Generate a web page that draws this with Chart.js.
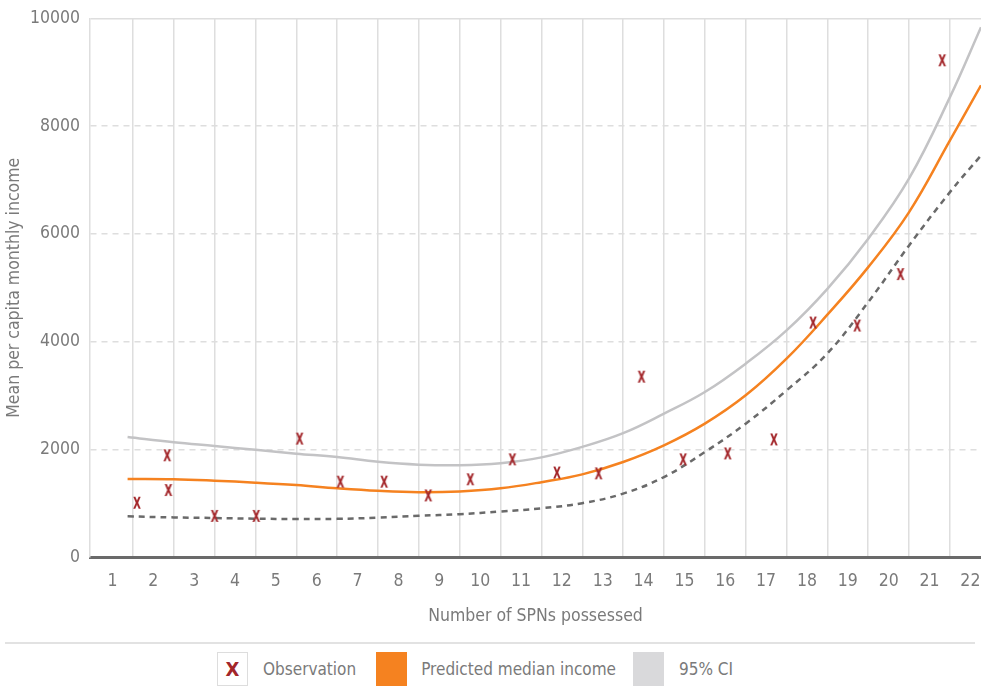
<!DOCTYPE html>
<html>
<head>
<meta charset="utf-8">
<script src="https://cdn.jsdelivr.net/npm/chart.js@4/dist/chart.umd.min.js"></script>
<style>
html,body{margin:0;padding:0;background:#fff;}
#wrap{position:relative;width:981px;height:686px;overflow:hidden;font-family:'DejaVu Sans Condensed','DejaVu Sans',sans-serif;}
#cv{position:absolute;left:0;top:0;}
#sep{position:absolute;left:5px;width:970px;top:642px;height:0;border-top:2px solid #e2e2e2;}
#legend{position:absolute;left:217px;top:652px;height:34px;display:flex;align-items:center;font-size:17px;color:#7a7a7a;}
.box{width:31px;height:34px;box-sizing:border-box;flex:none;}
.obs{border:1px solid #ddd;background:#fff;color:#a3262a;font-weight:bold;font-size:20px;display:flex;align-items:center;justify-content:center;}
.lbl{white-space:nowrap;}
</style>
</head>
<body>
<div id="wrap">
  <canvas id="cv" width="981" height="640"></canvas>
  <div id="sep"></div>
  <div id="legend">
    <div class="box obs">X</div><span class="lbl" style="margin-left:15px;margin-right:20px">Observation</span>
    <div class="box" style="background:#f58220"></div><span class="lbl" style="margin-left:14px;margin-right:17px">Predicted median income</span>
    <div class="box" style="background:#d9d9db"></div><span class="lbl" style="margin-left:15px">95% CI</span>
  </div>
</div>
<script>
// ---- data ----
const xTickLabels = [1,2,3,4,5,6,7,8,9,10,11,12,13,14,15,16,17,18,19,20,21,22];
const yTickValues = [0,2000,4000,6000,8000,10000];

const obsX = [1.60, 2.34, 2.37, 3.50, 4.52, 5.58, 6.58, 7.65, 8.73, 9.76, 10.79, 11.88, 12.90, 13.95, 14.97, 16.06, 17.19, 18.15, 19.23, 20.29, 21.31];
const obsY = [990, 1870, 1225, 745, 745, 2180, 1380, 1380, 1125, 1425, 1795, 1550, 1535, 3330, 1795, 1905, 2165, 4335, 4280, 5235, 9205];

const curveX  = [1.37, 2.5, 3.5, 4.5, 5.5, 6.5, 7.5, 8.5, 9.5, 10.5, 11.5, 12.5, 13.5, 14.5, 15.5, 16.5, 17.5, 18.5, 19.5, 20.5, 21.5, 22.26];
const medianY = [1450, 1445, 1418, 1381, 1335, 1275, 1228, 1203, 1218, 1275, 1390, 1535, 1764, 2073, 2476, 3002, 3683, 4500, 5383, 6404, 7735, 8760];
const upperY  = [2228, 2130, 2061, 1990, 1919, 1855, 1768, 1715, 1703, 1742, 1850, 2045, 2300, 2662, 3063, 3590, 4208, 4980, 5911, 7030, 8540, 9839];
const lowerY  = [755, 735, 724, 712, 705, 708, 731, 765, 795, 845, 905, 1000, 1177, 1485, 1949, 2476, 3094, 3780, 4734, 5786, 6776, 7457];

const X_MIN = 0.45, X_MAX = 22.26;
const FONT = "'DejaVu Sans Condensed','DejaVu Sans',sans-serif";
const TXT = '#7a7a7a';
const FS = 17.5;

function pts(xs, ys){ return xs.map((x,i)=>({x:x, y:ys[i]})); }

function makeXGlyph(){
  const c = document.createElement('canvas');
  c.width = 12; c.height = 16;
  const g = c.getContext('2d');
  g.fillStyle = '#a3262a';
  g.font = 'bold 16px ' + FONT;
  g.textAlign = 'center';
  g.textBaseline = 'middle';
  g.translate(6, 8.5);
  g.scale(0.72, 1);
  g.fillText('X', 0, 0);
  return c;
}
const xGlyph = makeXGlyph();

const isInt = v => Math.abs(v - Math.round(v)) < 1e-6;

new Chart(document.getElementById('cv'), {
  type: 'scatter',
  data: {
    datasets: [
      { label: 'Observation', data: pts(obsX, obsY), pointStyle: xGlyph, pointRadius: 7, showLine: false, order: 0 },
      { label: 'Predicted median income', data: pts(curveX, medianY), showLine: true, borderColor: '#f58220', borderWidth: 2.5, pointRadius: 0, tension: 0.4, order: 1 },
      { label: '95% CI upper', data: pts(curveX, upperY), showLine: true, borderColor: '#c3c3c5', borderWidth: 2.5, pointRadius: 0, tension: 0.4, order: 2 },
      { label: '95% CI lower', data: pts(curveX, lowerY), showLine: true, borderColor: '#6a6a6a', borderWidth: 2.5, borderDash: [6,5], pointRadius: 0, tension: 0.4, order: 3 }
    ]
  },
  options: {
    responsive: false,
    animation: false,
    layout: { autoPadding: false, padding: { top: 18.5, right: 0, left: 0, bottom: 0 } },
    plugins: { legend: { display: false }, tooltip: { enabled: false } },
    scales: {
      x: {
        type: 'linear',
        min: X_MIN,
        max: X_MAX,
        afterBuildTicks: s => {
          const t = [];
          xTickLabels.forEach((v, i) => {
            t.push({ value: v });
            if (i < xTickLabels.length - 1) t.push({ value: v + 0.5 });
          });
          t.push({ value: X_MAX });
          s.ticks = t;
        },
        afterFit: s => { s.height = 83; s.paddingRight = 0; s.paddingLeft = 0; },
        ticks: {
          autoSkip: false, maxRotation: 0, padding: 14, color: TXT,
          font: { family: FONT, size: FS },
          callback: v => isInt(v) ? String(v) : ''
        },
        grid: {
          drawTicks: false, lineWidth: 1.5,
          color: ctx => (ctx.tick && !isInt(ctx.tick.value) && ctx.tick.value < 22) ? '#dedede' : 'rgba(0,0,0,0)'
        },
        border: { display: true, color: '#6a6a6a', width: 3 },
        title: { display: true, text: 'Number of SPNs possessed', color: TXT, font: { family: FONT, size: FS }, padding: { top: 0, bottom: 13 } }
      },
      y: {
        min: 0, max: 10000,
        afterBuildTicks: s => { s.ticks = yTickValues.map(v => ({ value: v })); },
        afterFit: s => { s.width = 90; s.paddingTop = 0; s.paddingBottom = 0; },
        ticks: { color: TXT, padding: 10, font: { family: FONT, size: FS }, callback: v => String(v) },
        grid: {
          drawTicks: false, lineWidth: 1.5,
          color: ctx => (ctx.tick && ctx.tick.value === 0) ? 'rgba(0,0,0,0)' : '#dedede'
        },
        border: { display: true, color: '#dedede', width: 1.5, dash: ctx => (ctx.tick && ctx.tick.value === 10000) ? [] : [6,5] },
        title: { display: true, text: 'Mean per capita monthly income', color: TXT, font: { family: FONT, size: FS }, padding: { top: 4, bottom: 0 } }
      }
    }
  }
});
</script>
</body>
</html>
